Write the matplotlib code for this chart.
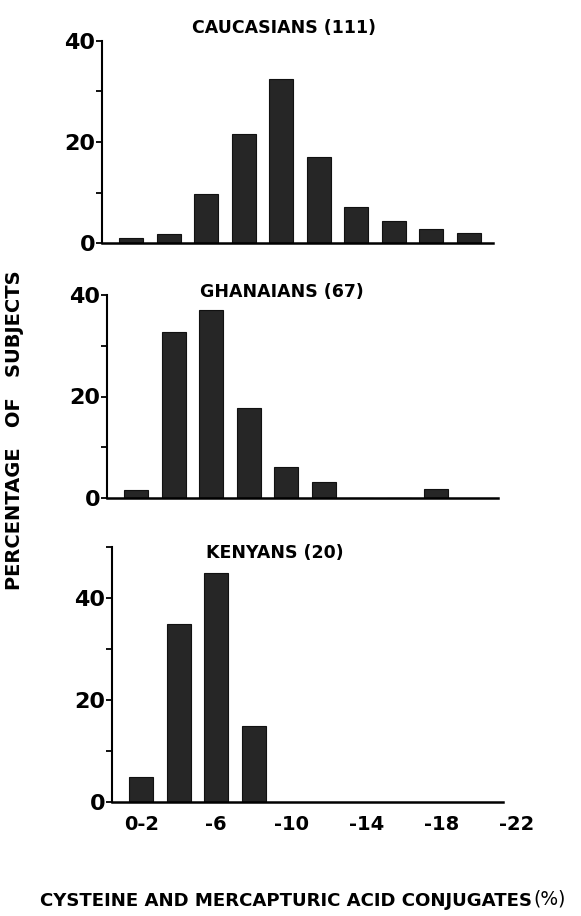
import matplotlib
matplotlib.use("Agg")
import matplotlib.pyplot as plt
import numpy as np

plt.rcParams["font.family"] = "DejaVu Sans"
plt.rcParams["font.weight"] = "bold"

W, H = 581, 916

# Percentage of subjects per 2% bin (0-2, 2-4, ... 18-20)
caucasians = [1.0, 1.7, 9.8, 21.5, 32.4, 17.1, 7.1, 4.4, 2.7, 1.9]
ghanaians = [1.6, 32.7, 37.1, 17.8, 6.2, 3.1, 0, 0, 1.8]
kenyans = [5.0, 35.0, 45.0, 15.0]

titles = ["CAUCASIANS (111)", "GHANAIANS (67)", "KENYANS (20)"]
xtick_pos = [0, 2, 4, 6, 8, 10]
xtick_labels = ["0-2", "-6", "-10", "-14", "-18", "-22"]

# panel geometry in pixels: left, top, bottom, ymax
panels = [(102, 41, 243, 40), (107, 295, 498, 40), (112, 547, 802, 50)]
title_pos = [(284, 28), (282, 292), (275, 553)]
PITCH = 37.5
XMIN, XMAX = -0.78, 10.4

fig = plt.figure(figsize=(W / 100, H / 100), dpi=100)

for i, (vals, (left, top, bot, ymax)) in enumerate(zip([caucasians, ghanaians, kenyans], panels)):
    w = (XMAX - XMIN) * PITCH
    ax = fig.add_axes([left / W, 1 - bot / H, w / W, (bot - top) / H])
    x = np.arange(len(vals))
    ax.bar(x, vals, width=0.65, color="#262626", edgecolor="#111111", linewidth=0.8)
    ax.set_xlim(XMIN, XMAX)
    ax.set_ylim(0, ymax)
    for s in ["top", "right"]:
        ax.spines[s].set_visible(False)
    ax.spines["left"].set_linewidth(1.5)
    ax.spines["bottom"].set_linewidth(1.8)
    ax.spines["bottom"].set_bounds(XMIN, 9.65)
    yt = np.arange(0, ymax + 1, 10)
    ax.set_yticks(yt)
    ax.set_yticklabels([str(int(v)) if v % 20 == 0 else "" for v in yt],
                       fontsize=16, fontweight="bold")
    ax.tick_params(axis="y", direction="out", length=4, width=1.3, pad=1)
    ax.tick_params(axis="x", length=0, pad=9)
    if i == 2:
        ax.set_xticks(xtick_pos)
        ax.set_xticklabels(xtick_labels, fontsize=14, fontweight="bold")
    else:
        ax.set_xticks([])
    tx, ty = title_pos[i]
    fig.text(tx / W, 1 - ty / H, titles[i], ha="center", va="center",
             fontsize=12.5, fontweight="bold")

fig.text(15 / W, 1 - 430 / H, "PERCENTAGE   OF   SUBJECTS", rotation=90,
         ha="center", va="center", fontsize=14, fontweight="bold")
xl = fig.text(40 / W, 1 - 901 / H, "CYSTEINE AND MERCAPTURIC ACID CONJUGATES",
              ha="left", va="center", fontsize=13.1, fontweight="bold")

# put the (%) right after the bold label
fig.canvas.draw()
bb = xl.get_window_extent()
fig.text((bb.x1 + 1) / W, 1 - 899 / H, "(%)", ha="left", va="center",
         fontsize=13.5, fontweight="normal", color="black")

fig.savefig("out.png", dpi=100, facecolor="white")
